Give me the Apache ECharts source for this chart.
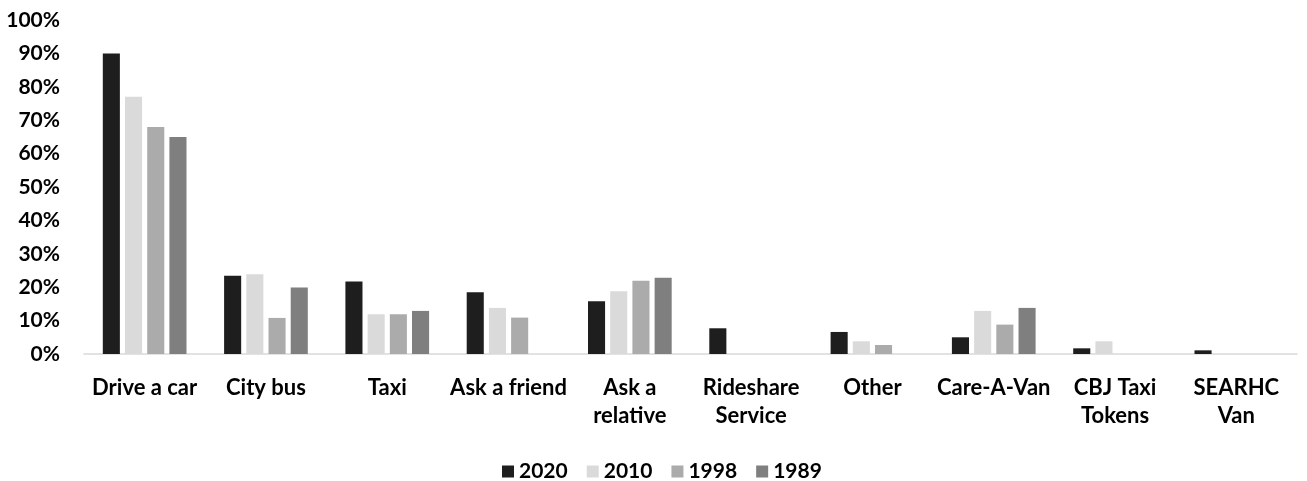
<!DOCTYPE html>
<html><head><meta charset="utf-8">
<script src="https://cdn.jsdelivr.net/npm/echarts@6/dist/echarts.min.js"></script>
<style>html,body{margin:0;padding:0;background:#fff}#c{width:1307px;height:481px}</style>
</head><body><div id="c"></div>
<script>
const categories = ['Drive a car','City bus','Taxi','Ask a friend','Ask a\nrelative','Rideshare\nService','Other','Care-A-Van','CBJ Taxi\nTokens','SEARHC\nVan'];
const s2020 = [90, 23.4, 21.7, 18.5, 15.8, 7.7, 6.6, 5.0, 1.7, 1.1];
const s2010 = [77, 23.9, 11.9, 13.8, 18.8, null, 3.8, 12.9, 3.8, null];
const s1998 = [68, 10.8, 11.9, 10.9, 21.9, null, 2.7, 8.8, null, null];
const s1989 = [65, 19.9, 12.9, null, 22.8, null, null, 13.8, null, null];
const yTicks = [0,10,20,30,40,50,60,70,80,90,100];
const font = 'Lato, "Open Sans", sans-serif';
const chart = echarts.init(document.getElementById('c'));
const mk = (name, data, color) => ({name, type:'bar', data, itemStyle:{color}, barGap:'30%', barCategoryGap:'31%'});
chart.setOption({
  animation:false,
  textStyle:{fontFamily:font},
  grid:{left:84, right:10, top:20, bottom:127},
  legend:{top:456, left:497, itemWidth:12, itemHeight:12, itemGap:19, icon:'rect',
    textStyle:{fontFamily:font, fontWeight:'bold', fontSize:21, color:'#000'},
    data:['2020','2010','1998','1989']},
  xAxis:{type:'category', data:categories,
    axisLine:{lineStyle:{color:'#d9d9d9', width:1.5}}, axisTick:{show:false},
    axisLabel:{interval:0, margin:20, fontFamily:font, fontWeight:'bold', fontSize:22, color:'#000', lineHeight:28}},
  yAxis:{type:'value', min:yTicks[0], max:yTicks[yTicks.length-1], interval:10,
    splitLine:{show:false}, axisLine:{show:false}, axisTick:{show:false},
    axisLabel:{margin:24, fontFamily:font, fontWeight:'bold', fontSize:21, color:'#000', formatter:'{value}%'}},
  series:[mk('2020',s2020,'#1e1e1e'), mk('2010',s2010,'#dadada'), mk('1998',s1998,'#ababab'), mk('1989',s1989,'#7f7f7f')]
});
</script></body></html>
